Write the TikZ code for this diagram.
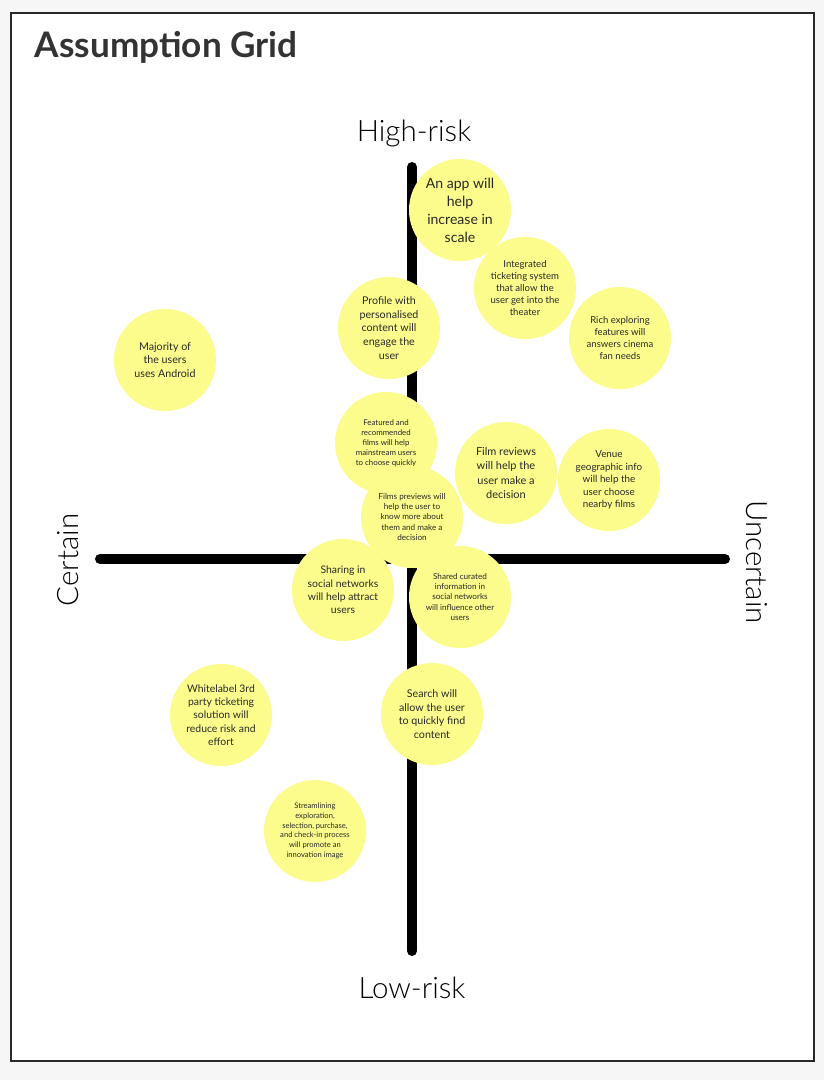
\documentclass[tikz,border=0pt]{standalone}
\usepackage{fontspec}
\setmainfont{Lato}
\newfontfamily\thinfont{Lato Light}
\definecolor{sticky}{RGB}{252,252,140}
\definecolor{pagebg}{RGB}{246,246,246}
\definecolor{ink}{RGB}{40,40,40}
\newcommand{\fs}[1]{\fontsize{#1}{1.28\dimexpr#1\relax}\selectfont}

\begin{document}
\begin{tikzpicture}[x=0.25mm, y=-0.25mm,
		idea/.style={circle, fill=sticky, minimum size=25.5mm, inner sep=0pt, align=center, text=ink},
		axislabel/.style={font=\thinfont\fontsize{21}{24}\selectfont, text=black}]
		% Page and frame
		\fill[pagebg] (0,0) rectangle (824,1080);
		\useasboundingbox (0,0) rectangle (824,1080);
		\draw[fill=white, draw=ink, line width=1.4pt] (11,13) rectangle (814,1061);
		\node[anchor=west, font=\bfseries\fontsize{25}{28}\selectfont, text=ink!95] (title) at (30,47) {Assumption Grid};

		% Axes
		\draw[line width=2.5mm, line cap=round] (100,559) -- (725,559);
		\draw[line width=2.5mm, line cap=round] (412,167) -- (412,951);

		% Axis labels
		\node[axislabel] (high) at (414,133) {High-risk};
		\node[axislabel] (low) at (412,988) {Low-risk};
		\node[axislabel, rotate=90] (certain) at (68,560) {Certain};
		\node[axislabel, rotate=-90] (uncertain) at (757,562) {Uncertain};

		% Assumptions
		\node[idea, font=\fs{10pt}] (app) at (460,210) {An app will\\help\\increase in\\scale};
		\node[idea, font=\fs{6.8pt}] (ticketing) at (525,288) {Integrated\\ticketing system\\that allow the\\user get into the\\theater};
		\node[idea, font=\fs{6.8pt}] (explore) at (620,338) {Rich exploring\\features will\\answers cinema\\fan needs};
		\node[idea, font=\fs{7.6pt}] (profile) at (389,328) {Profile with\\personalised\\content will\\engage the\\user};
		\node[idea, font=\fs{7.6pt}] (android) at (165,360) {Majority of\\the users\\uses Android};
		\node[idea, font=\fs{5.6pt}] (featured) at (386,443) {Featured and\\recommended\\films will help\\mainstream users\\to choose quickly};
		\node[idea, font=\fs{7.8pt}] (reviews) at (506,473) {Film reviews\\will help the\\user make a\\decision};
		\node[idea, font=\fs{7pt}] (venue) at (609,480) {Venue\\geographic info\\will help the\\user choose\\nearby films};
		\node[idea, font=\fs{5.8pt}] (previews) at (412,517) {Films previews will\\help the user to\\know more about\\them and make a\\decision};
		\node[idea, font=\fs{7.4pt}] (sharing) at (343,590) {Sharing in\\social networks\\will help attract\\users};
		\node[idea, font=\fs{5.8pt}] (curated) at (460,597) {Shared curated\\information in\\social networks\\will influence other\\users};
		\node[idea, font=\fs{7.4pt}] (whitelabel) at (221,715) {Whitelabel 3rd\\party ticketing\\solution will\\reduce risk and\\effort};
		\node[idea, font=\fs{7.6pt}] (search) at (432,714) {Search will\\allow the user\\to quickly find\\content};
		\node[idea, font=\fs{5.4pt}] (streamline) at (315,831) {Streamlining\\exploration,\\selection, purchase,\\and check-in process\\will promote an\\innovation image};
	\end{tikzpicture}
\end{document}
